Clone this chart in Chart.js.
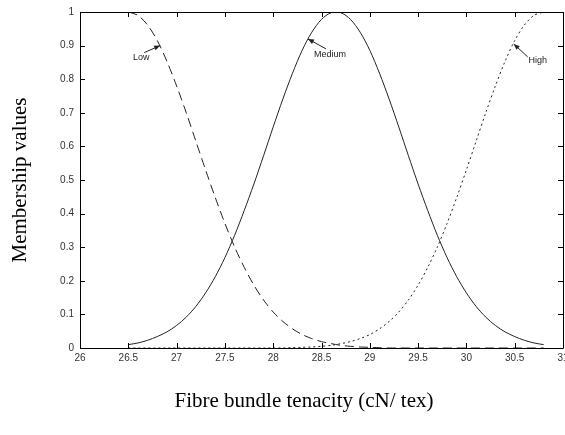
<!DOCTYPE html>
<html>
<head>
<meta charset="utf-8">
<script src="https://cdn.jsdelivr.net/npm/chart.js@4/dist/chart.umd.min.js"></script>
<style>
html,body{margin:0;padding:0;background:#fff;}
#wrap{width:565px;height:435px;position:relative;}
</style>
</head>
<body>
<div id="wrap"><canvas id="c" width="565" height="435"></canvas></div>
<script>
// ---- data ----
const xValues = [26.5,26.6,26.7,26.8,26.9,27.0,27.1,27.2,27.3,27.4,27.5,27.6,27.7,27.8,27.9,28.0,28.1,28.2,28.3,28.4,28.5,28.6,
                 28.7,28.8,28.9,29.0,29.1,29.2,29.3,29.4,29.5,29.6,29.7,29.8,29.9,30.0,30.1,30.2,30.3,30.4,30.5,30.6,30.7,30.8];
const lowValues = [1.000,0.990,0.961,0.915,0.853,0.780,0.700,0.615,0.530,0.448,0.371,0.301,0.240,0.187,0.143,0.107,0.079,0.057,0.040,0.028,0.019,0.013,
                   0.008,0.005,0.003,0.002,0.001,0,0,0,0,0,0,0,0,0,0,0,0,0,0,0,0,0];
const mediumValues = [0.010,0.015,0.023,0.034,0.048,0.067,0.092,0.124,0.164,0.212,0.269,0.335,0.409,0.488,0.572,0.658,0.741,0.818,0.886,0.940,0.978,0.998,
                      0.998,0.978,0.940,0.886,0.818,0.741,0.658,0.572,0.488,0.409,0.335,0.269,0.212,0.164,0.124,0.092,0.067,0.048,0.034,0.023,0.015,0.010];
const highValues = [0,0,0,0,0,0,0,0,0,0,0,0,0,0,0,0,0,0.001,0.002,0.003,0.005,0.008,
                    0.013,0.019,0.028,0.040,0.057,0.079,0.107,0.143,0.187,0.240,0.301,0.371,0.448,0.530,0.615,0.700,0.780,0.853,0.915,0.961,0.990,1.000];
const seriesNames = ['Low','Medium','High'];
const xTickLabels = ['26','26.5','27','27.5','28','28.5','29','29.5','30','30.5','31'];
const yTickLabels = ['0','0.1','0.2','0.3','0.4','0.5','0.6','0.7','0.8','0.9','1'];
const xTitle = 'Fibre bundle tenacity (cN/ tex)';
const yTitle = 'Membership values';
// annotation anchors (data coords on each curve)
const annotX = [26.83, 28.36, 30.49];
const annotY = [0.90, 0.92, 0.905];

const toPts = (ys) => xValues.map((x, i) => ({x: x, y: ys[i]}));
const lineColor = '#222';

const frameTicks = {
  id: 'frameTicks',
  afterDatasetsDraw(chart) {
    const {ctx, chartArea: a, scales: {x, y}} = chart;
    ctx.save();
    ctx.strokeStyle = '#000';
    ctx.lineWidth = 1;
    ctx.beginPath();
    ctx.rect(Math.round(a.left) + 0.5, Math.round(a.top) + 0.5, Math.round(a.right - a.left), Math.round(a.bottom - a.top));
    ctx.stroke();
    const L = 5;
    ctx.beginPath();
    x.ticks.forEach(t => {
      const px = Math.round(x.getPixelForValue(t.value)) + 0.5;
      ctx.moveTo(px, a.bottom); ctx.lineTo(px, a.bottom - L);
      ctx.moveTo(px, a.top); ctx.lineTo(px, a.top + L);
    });
    y.ticks.forEach(t => {
      const py = Math.round(y.getPixelForValue(t.value)) + 0.5;
      ctx.moveTo(a.left, py); ctx.lineTo(a.left + L, py);
      ctx.moveTo(a.right, py); ctx.lineTo(a.right - L, py);
    });
    ctx.stroke();
    ctx.restore();
  }
};

const annotations = {
  id: 'annotations',
  afterDatasetsDraw(chart) {
    const {ctx, scales: {x, y}} = chart;
    const offsets = [
      {tx: -19, ty: 12, lx: -16, ly: 7},
      {tx: 22, ty: 16, lx: 18, ly: 10},
      {tx: 24, ty: 17, lx: 14, ly: 13}
    ];
    ctx.save();
    ctx.font = '9px "Liberation Sans", Arial, sans-serif';
    ctx.fillStyle = '#222';
    ctx.strokeStyle = '#222';
    ctx.lineWidth = 1;
    ctx.textAlign = 'center';
    ctx.textBaseline = 'middle';
    seriesNames.forEach((name, i) => {
      const hx = x.getPixelForValue(annotX[i]);
      const hy = y.getPixelForValue(annotY[i]);
      const o = offsets[i];
      const tx = hx + o.lx, ty = hy + o.ly;
      ctx.beginPath();
      ctx.moveTo(tx, ty); ctx.lineTo(hx, hy);
      ctx.stroke();
      const ang = Math.atan2(hy - ty, hx - tx);
      const hl = 6, hw = 2.5;
      ctx.beginPath();
      ctx.moveTo(hx, hy);
      ctx.lineTo(hx - hl * Math.cos(ang) + hw * Math.sin(ang), hy - hl * Math.sin(ang) - hw * Math.cos(ang));
      ctx.lineTo(hx - hl * Math.cos(ang) - hw * Math.sin(ang), hy - hl * Math.sin(ang) + hw * Math.cos(ang));
      ctx.closePath();
      ctx.fill();
      ctx.fillText(name, hx + o.tx, hy + o.ty);
    });
    ctx.restore();
  }
};

const xTitlePlugin = {
  id: 'xTitlePlugin',
  afterDraw(chart) {
    const {ctx} = chart;
    ctx.save();
    ctx.font = '21px "Liberation Serif", "Times New Roman", serif';
    ctx.fillStyle = '#000';
    ctx.textAlign = 'center';
    ctx.textBaseline = 'middle';
    ctx.fillText(xTitle, 304, 401);
    ctx.restore();
  }
};

new Chart(document.getElementById('c'), {
  type: 'line',
  data: {
    datasets: [
      {label: seriesNames[0], data: toPts(lowValues), borderColor: lineColor, borderWidth: 1, borderDash: [9, 5], pointRadius: 0, tension: 0.3, fill: false},
      {label: seriesNames[1], data: toPts(mediumValues), borderColor: lineColor, borderWidth: 1, pointRadius: 0, tension: 0.3, fill: false},
      {label: seriesNames[2], data: toPts(highValues), borderColor: lineColor, borderWidth: 1, borderDash: [2, 3], pointRadius: 0, tension: 0.3, fill: false}
    ]
  },
  options: {
    responsive: false,
    animation: false,
    layout: {padding: {left: 0, top: 12, right: 2, bottom: 0}},
    plugins: {legend: {display: false}, tooltip: {enabled: false}},
    scales: {
      x: {
        type: 'linear', min: 26, max: 31,
        grid: {display: false, drawTicks: false},
        border: {display: false},
        afterFit(s) { s.height = 87; s.paddingLeft = 0; s.paddingRight = 0; },
        afterBuildTicks(s) { s.ticks = xTickLabels.map(v => ({value: parseFloat(v)})); },
        ticks: {
          autoSkip: false, maxRotation: 0, padding: 4,
          color: '#333',
          font: {family: '"Liberation Sans", Arial, sans-serif', size: 10},
          callback: (v, i) => xTickLabels[i]
        }
      },
      y: {
        type: 'linear', min: 0, max: 1,
        grid: {display: false, drawTicks: false},
        border: {display: false},
        afterFit(s) { s.width = 80; s.paddingTop = 0; s.paddingBottom = 0; },
        afterBuildTicks(s) { s.ticks = yTickLabels.map(v => ({value: parseFloat(v)})); },
        ticks: {
          autoSkip: false, padding: 6,
          color: '#333',
          font: {family: '"Liberation Sans", Arial, sans-serif', size: 10},
          callback: (v, i) => yTickLabels[i]
        },
        title: {
          display: true, text: yTitle, color: '#000',
          padding: {top: 8, bottom: 0},
          font: {family: '"Liberation Serif", "Times New Roman", serif', size: 21, weight: 'normal'}
        }
      }
    }
  },
  plugins: [frameTicks, annotations, xTitlePlugin]
});
</script>
</body>
</html>
